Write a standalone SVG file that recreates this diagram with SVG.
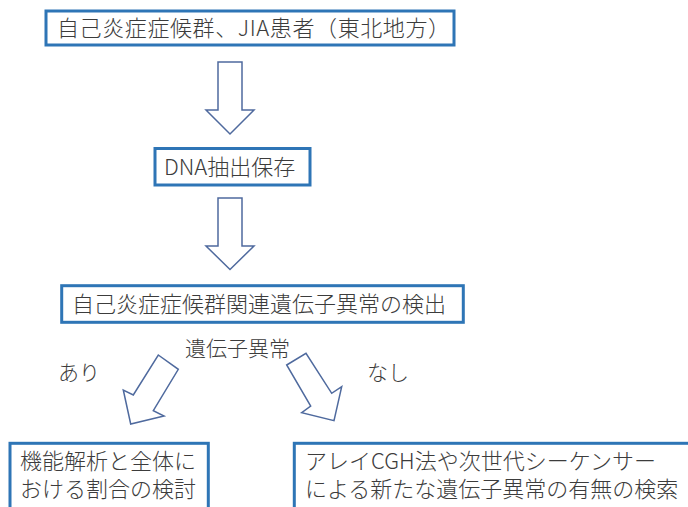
<svg xmlns="http://www.w3.org/2000/svg" width="688" height="507" viewBox="0 0 688 507">
<defs>
<style>
.box{fill:#fff;stroke:#2E75B6;stroke-width:3}
.arr{fill:#fff;stroke:#4F6A9E;stroke-width:1.5;stroke-linejoin:miter}
text{font-family:"Noto Sans CJK JP","Noto Sans",sans-serif;fill:#3c3c3c;font-size:22px;font-weight:300}
.lbl{font-size:21px}
</style>
</defs>
<rect width="688" height="507" fill="#fff"/>
<g id="connectors">
<polygon class="arr" points="218,62 242,62 242,110 254,110 230,134 206,110 218,110"/>
<polygon class="arr" points="218,198 242,198 242,246 254,246 230,269.5 206,246 218,246"/>
<polygon class="arr" points="158.3,355 178.3,369.3 153.3,410.7 164,416 130.7,424 123.3,390 133.3,395"/>
<polygon class="arr" points="286.7,365 306,353.3 331.7,393.3 341.7,386.7 334,420.7 301.7,412.7 310.7,406"/>
</g>
<g id="label-ijou"><text class="lbl" x="185" y="356">遺伝子異常</text></g>
<g id="label-ari"><text class="lbl" x="58" y="380">あり</text></g>
<g id="label-nashi"><text class="lbl" x="367" y="380">なし</text></g>
<g id="n1">
<rect class="box" x="46" y="11" width="408" height="34"/>
<text x="57" y="36" letter-spacing="0.6">自己炎症症候群、JIA患者（東北地方）</text>
</g>
<g id="n2">
<rect class="box" x="155" y="148.5" width="155" height="36.5"/>
<text x="164" y="175">DNA抽出保存</text>
</g>
<g id="n3">
<rect class="box" x="61.7" y="285.7" width="401.6" height="36.6"/>
<text x="72" y="312">自己炎症症候群関連遺伝子異常の検出</text>
</g>
<g id="n4">
<rect class="box" x="10" y="443.3" width="198.3" height="80"/>
<text x="20" y="469">機能解析と全体に</text>
<text x="20" y="497">おける割合の検討</text>
</g>
<g id="n5">
<rect class="box" x="294.3" y="443.3" width="420" height="80"/>
<text x="305" y="469">アレイCGH法や次世代シーケンサー</text>
<text x="305" y="497">による新たな遺伝子異常の有無の検索</text>
</g>
</svg>
